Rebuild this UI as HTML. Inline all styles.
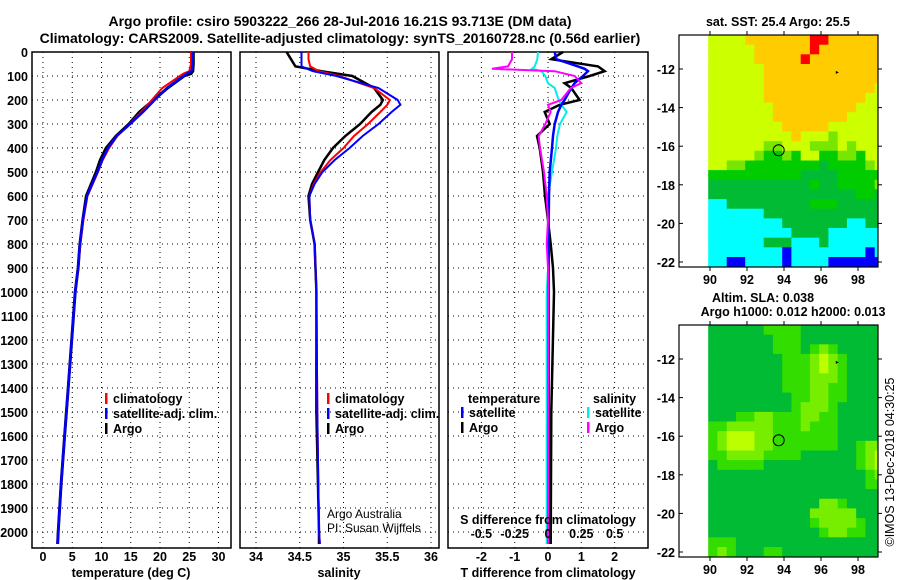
<!DOCTYPE html>
<html><head><meta charset="utf-8"><style>
body{margin:0;background:#fff;}
svg{display:block;font-family:"Liberation Sans",Arial,sans-serif;}
.b{font-weight:bold;font-size:12.5px;}
</style></head><body>
<svg id="s" width="900" height="580" xmlns="http://www.w3.org/2000/svg"></svg>
<script>
// ---- data ----
const tDepth=[0,50,80,90,100,150,200,250,300,350,400,450,500,600,700,800,900,1000,1200,1400,1600,1800,2000,2050];
const tSat=[25.6,25.6,25.4,24.6,24.0,21.2,19.1,17.1,14.9,12.6,11.1,10.1,9.3,7.5,6.8,6.3,6.0,5.5,4.9,4.3,3.7,3.1,2.6,2.5];
const tClim=[25.3,25.3,25.0,24.0,23.4,20.4,18.6,16.8,14.8,12.7,11.3,10.2,9.4,7.6,6.9,6.4,6.0,5.5,4.9,4.3,3.7,3.1,2.6,2.5];
const tArgo=[25.7,25.7,25.6,25.3,24.1,21.3,18.9,16.5,14.7,12.5,10.8,9.8,9.1,7.4,6.8,6.3,6.0,5.5,4.9,4.3,3.7,3.1,2.6,2.5];
const sDepth=[0,30,60,80,100,150,200,220,250,300,350,400,450,500,550,600,700,800,1000,1500,2000,2050];
const sArgo=[34.35,34.40,34.45,34.75,35.10,35.35,35.45,35.42,35.32,35.19,35.02,34.88,34.78,34.71,34.64,34.60,34.62,34.67,34.69,34.69,34.72,34.72];
const sClim=[34.60,34.60,34.62,34.72,34.95,35.35,35.53,35.50,35.42,35.28,35.12,35.00,34.85,34.74,34.66,34.61,34.62,34.67,34.69,34.70,34.72,34.73];
const sSat=[34.52,34.52,34.52,34.65,34.92,35.40,35.62,35.65,35.55,35.40,35.22,35.07,34.90,34.76,34.67,34.61,34.62,34.67,34.69,34.70,34.72,34.73];
const dDepth=[0,30,60,70,80,100,130,150,200,220,250,300,350,400,500,600,700,800,900,1000,1500,2050];
const dTsat=[0.2,0.25,0.9,1.1,1.2,1.05,0.8,0.7,0.5,0.4,0.3,0.2,0.15,0.12,0.05,0.03,0.02,0.02,0.02,0.02,0.02,0.02];
const dTargo=[0.45,0.1,1.5,1.6,1.7,1.25,0.5,0.7,0.95,0.35,-0.1,0.05,-0.33,-0.25,-0.15,-0.09,0.0,0.08,0.15,0.18,0.1,0.08];
const dSsat=[-0.075,-0.08,-0.1,-0.12,-0.05,-0.02,0.0,0.05,0.08,0.1,0.14,0.09,0.07,0.06,0.03,0.0,0.0,0.0,0.0,-0.01,-0.01,-0.01];
const dSargo=[-0.27,-0.27,-0.3,-0.42,0.05,0.2,0.25,0.17,0.1,0.0,0.02,-0.02,-0.07,-0.06,-0.03,-0.01,0.0,-0.01,0.0,0.0,0.0,0.0];
const depthTicks=[0,100,200,300,400,500,600,700,800,900,1000,1100,1200,1300,1400,1500,1600,1700,1800,1900,2000];
const tTicks=[0,5,10,15,20,25,30];
const sTicks=[34,34.5,35,35.5,36];
const dTticks=[-2,-1,0,1,2];
const dSticks=[-0.5,-0.25,0,0.25,0.5];
const dSlabels=["-0.5","-0.25","0","0.25","0.5"];
const lonTicks=[90,92,94,96,98];
const latTicks=[-12,-14,-16,-18,-20,-22];
const sstRows=[
"YYYYOOOOOOORROOOOOO","YYYYYOOOOOOROOOOOOO","YYYYYOOOOOROOOOOOOO","YYYYYYOOOOOOOOOOOOO",
"YYYYYYOOOOOOOOOOOOO","YYYYYYOOOOOOOOOOOOY","YYYYYYOOOOOOOOOOOYY","YYYYYYYOOOOOOOOOYYY",
"YYYYYYYOOOOOOOOYYYY","YYYYYYYYOOOOOYYYYYY","YYYYYYYYYOYYYLYYYYY","YYYYYYLLYYYLLLYLYYY",
"YYYYYLGGLGYYGGLLGYY","YYLLGGGGGGGGDGGGGLY","GGGGGGGGGGDDDDGGGGG","DDDDDDDDDDDGDDGGGGL",
"DDDDDDDDDDDDDDDDGGD","CCDDDDDDDDDGGGDDDDD","CCCCCCDDDDDDDDDDDDD","CCCCCCCCDDDDDDDCCDD",
"CCCCCCCCCDDDDCCCCCC","CCCCCCDDDCCCDCCCCCC","CCCCCCCCBCCCCCCCCBC","CCBBCCCCBCCCCBBBBBB"];
const slaRows=[
"DDDDDDGGGGDDDDDDDDD","DDDDDDDGGGDDDDDDDDD","DDDDDDDGGGDGLGDDDDD","DDDDDDDDGGGLYLGDDDD",
"DDDDDDDDGGGLYLGDDDD","DDDDDDDDGGGLLLGDDDD","DDDDDDDDGGGLLGGDDDD","DDDDDDDDDGGLLGGDDDD",
"DDDDDDDDDGLLLGDDDDD","DDDGGLLGGGLLGGDDDDD","GGLLLLLGGGLGGGDDDDD","GLYYYLLGGGGGGGDDDDD",
"GLYYYLLGGGGGGGDDGLL","GGLLLLGGGGDDDDDDGLY","DGGGGGDDDDDDDDDDGLY","DDDDDDDDDDDDDDDDDGL",
"DDDDDDDDDDDDDDDDDGG","DDDDDDDDDDDDDDDDDDD","DDDDDDDDDDDDLLGDDDD","DDDDDDDDDDDLLLLLDDD",
"DDDDDDDDDDDGLLLLGDD","DDDDDDDDDDDDGLLGGDD","GGGDDDDDDDDDDDDDDDD","GLGDDDGGDDDDDDDDDDD"];
const sstColors={O:"#ffcc00",Y:"#ccff00",L:"#77e600",G:"#00cc00",D:"#00bb33",C:"#00ffff",B:"#0000ff",R:"#ff0000"};
const slaColors={D:"#00bb33",G:"#33dd00",L:"#77ee00",Y:"#bbff00"};
const profLon=93.713, profLat=-16.21;

// ---- helpers ----
const S=document.getElementById('s');const NS="http://www.w3.org/2000/svg";
function mk(tag,at,txt){const e=document.createElementNS(NS,tag);for(const k in at)e.setAttribute(k,at[k]);if(txt!==undefined)e.textContent=txt;S.appendChild(e);return e;}
const top0=52,pxPer100=24.0,boxBot=548;
const yD=d=>top0+d*pxPer100/100;
function panel(x0,x1,name){
  const r=mk('rect',{x:x0,y:top0,width:x1-x0,height:boxBot-top0,fill:'none',stroke:'#000','stroke-width':1.5});
  
  depthTicks.forEach(d=>{const l=mk('line',{x1:x0,x2:x1,y1:yD(d),y2:yD(d),stroke:'#000','stroke-dasharray':'1,4'});
    });
}
function vgrid(xs){xs.forEach(x=>{const l=mk('line',{x1:x,x2:x,y1:top0,y2:boxBot,stroke:'#000','stroke-dasharray':'1,4'});
  });}
function line(xs,ds,fx,col,name,w){const p=xs.map((v,i)=>fx(v).toFixed(1)+','+yD(ds[i]).toFixed(1)).join(' ');
  const e=mk('polyline',{points:p,fill:'none',stroke:col,'stroke-width':w||2});
  }
function txt(x,y,s,cls,anchor,name,extra){const e=mk('text',Object.assign({x:x,y:y,class:cls||'b','text-anchor':anchor||'start'},extra||{}),s);
  return e;}

// title
txt(340,26,"Argo profile: csiro 5903222_266 28-Jul-2016 16.21S 93.713E (DM data)","b","middle","title-line-1",{style:"font-size:14px"});
txt(340,43,"Climatology: CARS2009. Satellite-adjusted climatology: synTS_20160728.nc (0.56d earlier)","b","middle","title-line-2",{style:"font-size:14px"});

// ---- panel 1 temperature ----
const xT=v=>43+v*5.85;
panel(32,231,'temperature-panel');vgrid(tTicks.map(xT));
depthTicks.forEach(d=>txt(28,yD(d)+5,String(d),'b','end','depth-tick-label'));
tTicks.forEach(t=>txt(xT(t),561,String(t),'b','middle','temperature-tick-label'));
txt(131,577,"temperature (deg C)",'b','middle','temperature-axis-title');
line(tArgo,tDepth,xT,'#000','argo-temperature-line',3);
line(tClim,tDepth,xT,'#ff0000','climatology-temperature-line');
line(tSat,tDepth,xT,'#0000ff','satellite-temperature-line',2.5);
function legend(x,y,items){items.forEach((it,i)=>{const m=mk('rect',{x:x,y:y+i*15-10,width:2.5,height:11,fill:it[1]});
  
  txt(x+8,y+i*15,it[0],'b','start','legend-entry');});}
legend(105,403,[["climatology","#ff0000"],["satellite-adj. clim.","#0000ff"],["Argo","#000"]]);

// ---- panel 2 salinity ----
const xS=v=>256+(v-34)*87.5;
panel(240,439,'salinity-panel');vgrid(sTicks.map(xS));
sTicks.forEach(t=>txt(xS(t),561,String(t),'b','middle','salinity-tick-label'));
txt(339,577,"salinity",'b','middle','salinity-axis-title');
line(sArgo,sDepth,xS,'#000','argo-salinity-line',2.5);
line(sClim,sDepth,xS,'#ff0000','climatology-salinity-line');
line(sSat,sDepth,xS,'#0000ff','satellite-salinity-line');
legend(327,403,[["climatology","#ff0000"],["satellite-adj. clim.","#0000ff"],["Argo","#000"]]);
txt(327,518,"Argo Australia",'n','start','credit-argo-australia',{style:"font-size:12px"});
txt(327,532,"PI: Susan Wijffels",'n','start','credit-pi',{style:"font-size:12px"});

// ---- panel 3 differences ----
const xDT=v=>548+v*33.3, xDS=v=>548+v*133.3;
panel(448,648,'difference-panel');vgrid(dTticks.map(xDT));
dTticks.forEach(t=>txt(xDT(t),561,String(t),'b','middle','t-diff-tick-label'));
txt(548,577,"T difference from climatology",'b','middle','t-diff-axis-title');
line(dTargo,dDepth,xDT,'#000','argo-t-diff-line',2.5);
line(dSsat,dDepth,xDS,'#00eeee','satellite-s-diff-line');
line(dTsat,dDepth,xDT,'#0000ff','satellite-t-diff-line',2.5);
line(dSargo,dDepth,xDS,'#ff00ff','argo-s-diff-line');
txt(548,524,"S difference from climatology",'b','middle','s-diff-axis-title');
dSticks.forEach((t,i)=>txt(xDS(t),538,dSlabels[i],'b','middle','s-diff-tick-label'));
txt(468,403,"temperature",'b','start','legend-title-temperature');
legend(461,417,[["satellite","#0000ff"],["Argo","#000"]]);
txt(593,403,"salinity",'b','start','legend-title-salinity');
legend(587,417,[["satellite","#00eeee"],["Argo","#ff00ff"]]);

// ---- maps ----
function map(y0,rows,colors,name,lat12y){
  const bx0=679,bx1=878,by1=y0+232;
  const xL=lon=>710+(lon-90)*18.5, yL=lat=>lat12y+(-12-lat)*19.3;
  const latTop=-12+(lat12y-y0)/19.3;
  const g=document.createElementNS(NS,'g');S.appendChild(g);
  const cp=mk('clipPath',{id:'cp'+name});const cr=document.createElementNS(NS,'rect');
  cr.setAttribute('x',708);cr.setAttribute('y',y0);cr.setAttribute('width',bx1-708);cr.setAttribute('height',by1-y0);cp.appendChild(cr);
  const cg=mk('g',{'clip-path':'url(#cp'+name+')'});
  
  rows.forEach((r,i)=>{for(let j=0;j<r.length;j++){
    const lon=89.9+j*0.5, lat=latTop-i*0.5;
    const c=document.createElementNS(NS,'rect');
    c.setAttribute('x',xL(lon).toFixed(1));c.setAttribute('y',yL(lat).toFixed(1));
    c.setAttribute('width',(0.5*18.5+0.6).toFixed(1));c.setAttribute('height',(0.5*19.3+0.6).toFixed(1));
    c.setAttribute('fill',colors[r[j]]);
    
    
    cg.appendChild(c);}});
  const b=mk('rect',{x:bx0,y:y0,width:bx1-bx0,height:by1-y0,fill:'none',stroke:'#000','stroke-width':1.2});
  
  latTicks.forEach(l=>{txt(675,yL(l)+5,String(l),'b','end','lat-tick-label');
    mk('line',{x1:bx0,x2:bx0+4,y1:yL(l),y2:yL(l),stroke:'#000'});mk('line',{x1:bx1,x2:bx1+4,y1:yL(l),y2:yL(l),stroke:'#000'});});
  lonTicks.forEach(l=>{txt(xL(l),by1+17,String(l),'b','middle','lon-tick-label');
    mk('line',{x1:xL(l),x2:xL(l),y1:y0,y2:y0-4,stroke:'#000'});mk('line',{x1:xL(l),x2:xL(l),y1:by1,y2:by1+4,stroke:'#000'});});
  const c=mk('circle',{cx:xL(profLon),cy:yL(profLat),r:5.5,fill:'none',stroke:'#000','stroke-width':1});
  
  mk('path',{d:`M${xL(96.8)} ${yL(-12.1)} l3 1.5 l-3 1.5z`,fill:'#000'});
}
txt(778,26,"sat. SST: 25.4 Argo: 25.5",'b','middle','sst-map-title');
map(35,sstRows,sstColors,'sst-map',69);
txt(763,302,"Altim. SLA: 0.038",'b','middle','sla-map-title');
txt(793,316,"Argo h1000: 0.012 h2000: 0.013",'b','middle','sla-map-subtitle');
map(325,slaRows,slaColors,'sla-map',359);
const cr=txt(0,0,"©IMOS 13-Dec-2018 04:30:25",'n','middle','copyright-stamp',{transform:"translate(894,462) rotate(-90)",style:"font-size:12.5px"});
</script>
</body></html>
